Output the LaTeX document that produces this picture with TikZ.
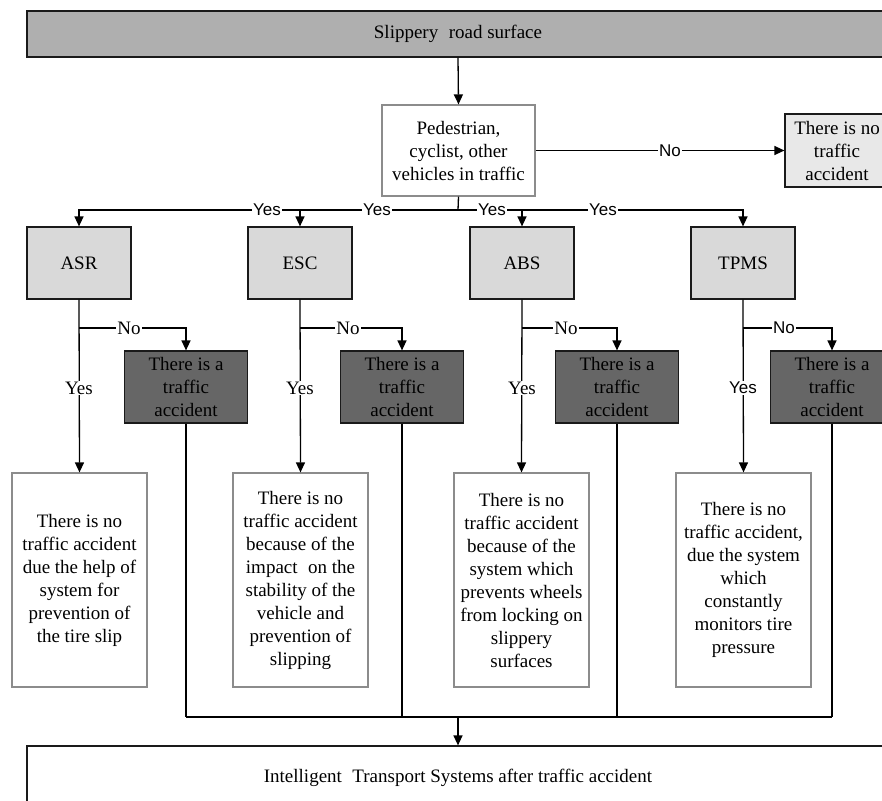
\documentclass[tikz,border=0pt]{standalone}
\usepackage{fontspec}
\setmainfont{Liberation Serif}
\newfontfamily\lsans{Liberation Sans}
\usetikzlibrary{arrows.meta}
\definecolor{topgray}{HTML}{AFAFAF}
\definecolor{sysgray}{HTML}{D9D9D9}
\definecolor{accgray}{HTML}{666666}
\definecolor{noaccgray}{HTML}{E8E8E8}
\definecolor{bordergray}{HTML}{8C8C8C}
\definecolor{darkline}{HTML}{1A1A1A}
\begin{document}
\begin{tikzpicture}[x=1pt,y=-1pt,
  every node/.style={font=\fontsize{19}{23}\selectfont},
  box/.style={draw=darkline, line width=1.2pt, rectangle, inner sep=0pt, align=center},
  topbox/.style={box, fill=topgray, minimum width=862pt, minimum height=46pt},
  pedbox/.style={box, draw=bordergray, fill=white, minimum width=153pt, minimum height=91pt},
  noaccbox/.style={box, fill=noaccgray, minimum width=104pt, minimum height=73pt},
  sysbox/.style={box, fill=sysgray, minimum width=104pt, minimum height=72pt},
  accbox/.style={box, fill=accgray, minimum width=123pt, minimum height=72pt},
  resbox/.style={box, draw=bordergray, fill=white, minimum width=135pt, minimum height=214pt},
  botbox/.style={box, fill=white, minimum width=862pt, minimum height=64pt},
  line/.style={draw=black, line width=1.3pt},
  conn/.style={line, -{Triangle[length=10pt,width=9pt]}},
  slab/.style={fill=white, inner sep=1pt, font=\lsans\fontsize{17}{20}\selectfont},
  rlab/.style={fill=white, inner sep=1pt, font=\fontsize{19}{23}\selectfont}
]
\useasboundingbox (0,0) rectangle (882,800);
\clip (0,0) rectangle (882,800);

% boxes
\node[topbox] (top) at (458,34) {Slippery\hspace{0.3em} road surface};
\node[pedbox] (ped) at (458.5,150.5) {Pedestrian,\\cyclist, other\\vehicles in traffic};
\node[noaccbox] (noacc) at (837,150.5) {There is no\\traffic\\accident};

\node[sysbox] (asr) at (79,263) {ASR};
\node[sysbox] (esc) at (300,263) {ESC};
\node[sysbox] (abs) at (522,263) {ABS};
\node[sysbox] (tpms) at (743,263) {TPMS};

\node[accbox] (acc1) at (186,387) {There is a\\traffic\\accident};
\node[accbox] (acc2) at (402,387) {There is a\\traffic\\accident};
\node[accbox] (acc3) at (617,387) {There is a\\traffic\\accident};
\node[accbox] (acc4) at (832,387) {There is a\\traffic\\accident};

\node[resbox] (res1) at (79.5,580) {There is no\\traffic accident\\due the help of\\system for\\prevention of\\the tire slip};
\node[resbox] (res2) at (300.5,580) {There is no\\traffic accident\\because of the\\impact\hspace{0.3em} on the\\stability of the\\vehicle and\\prevention of\\slipping};
\node[resbox] (res3) at (521.5,580) {There is no\\traffic accident\\because of the\\system which\\prevents wheels\\from locking on\\slippery\\surfaces};
\node[resbox] (res4) at (743.5,580) {There is no\\traffic accident,\\due the system\\which\\constantly\\monitors tire\\pressure};

\node[botbox] (bot) at (458,778) {Intelligent\hspace{0.3em} Transport Systems after traffic accident};

% top connectors
\draw[conn] (top.south) -- (ped.north);
\draw[conn] (ped.east) -- (noacc.west);
\coordinate (j) at (458,210);
\draw[line] (ped.south) -- (j);
\draw[conn] (j) -| (asr.north);
\draw[conn] (j) -| (esc.north);
\draw[conn] (j) -| (abs.north);
\draw[conn] (j) -| (tpms.north);

% system branches
\coordinate (b1) at (79,328);
\coordinate (b2) at (300,328);
\coordinate (b3) at (522,328);
\coordinate (b4) at (743,328);
\draw[conn] (asr.south) -- (res1.north);
\draw[conn] (esc.south) -- (res2.north);
\draw[conn] (abs.south) -- (res3.north);
\draw[conn] (tpms.south) -- (res4.north);
\draw[conn] (b1) -| (acc1.north);
\draw[conn] (b2) -| (acc2.north);
\draw[conn] (b3) -| (acc3.north);
\draw[conn] (b4) -| (acc4.north);

% bottom collection
\coordinate (e1) at (186,717);
\coordinate (e2) at (402,717);
\coordinate (e3) at (617,717);
\coordinate (e4) at (832,717);
\coordinate (e0) at (458,717);
\draw[line] (acc1.south) -- (e1);
\draw[line] (acc2.south) -- (e2);
\draw[line] (acc3.south) -- (e3);
\draw[line] (acc4.south) -- (e4);
\draw[line] (e1) -- (e4);
\draw[conn] (e0) -- (bot.north);

% labels
\node[slab] (lno) at (670,150.5) {No};
\node[slab] (ly1) at (267,210) {Yes};
\node[slab] (ly2) at (377,210) {Yes};
\node[slab] (ly3) at (492,210) {Yes};
\node[slab] (ly4) at (603,210) {Yes};

\node[rlab] (n1) at (129,328) {No};
\node[rlab] (n2) at (348,328) {No};
\node[rlab] (n3) at (566,328) {No};
\node[slab] (n4) at (784,328) {No};

\node[rlab] (y1) at (79,388) {Yes};
\node[rlab] (y2) at (300,388) {Yes};
\node[rlab] (y3) at (522,388) {Yes};
\node[slab] (y4) at (743,388) {Yes};
\end{tikzpicture}
\end{document}
